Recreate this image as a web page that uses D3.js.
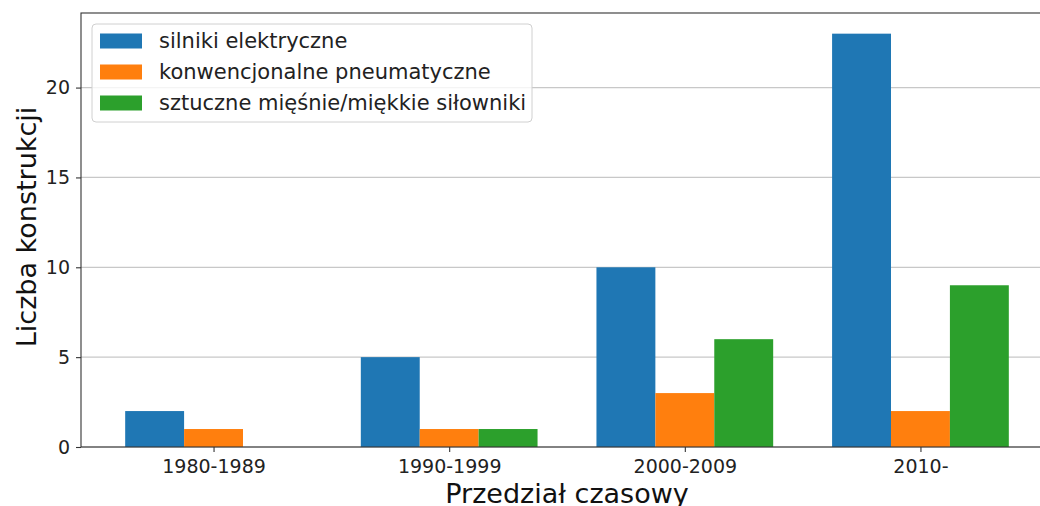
<!DOCTYPE html>
<html>
<head>
<meta charset="utf-8">
<script src="https://cdn.jsdelivr.net/npm/d3@7"></script>
<style>
  body { margin: 0; background: #fff; }
  svg { font-family: "DejaVu Sans", sans-serif; display: block; }
</style>
</head>
<body>
<svg id="chart" width="1040" height="506"></svg>
<script>
// data
var periods = ["1980-1989", "1990-1999", "2000-2009", "2010-"];
var seriesNames = ["silniki elektryczne", "konwencjonalne pneumatyczne", "sztuczne mięśnie/miękkie siłowniki"];
var electric = [2, 5, 10, 23];
var pneumatic = [1, 1, 3, 2];
var artificial = [0, 1, 6, 9];
var yTicks = [0, 5, 10, 15, 20];
var colors = ["#1f77b4", "#ff7f0e", "#2ca02c"];

var series = [electric, pneumatic, artificial];

var svg = d3.select("#chart");
var mLeft = 81, mRight = 1053, mTop = 13, mBottom = 447;
var barW = 0.25;

// numeric x like matplotlib, bars at i + (k-1)*barW
var x = d3.scaleLinear().domain([-0.5625, 3.5625]).range([mLeft, mRight]);
var y = d3.scaleLinear().domain([0, 24.15]).range([mBottom, mTop]);

// grid
svg.append("g").selectAll("line")
    .data(yTicks)
  .enter().append("line")
    .attr("x1", mLeft).attr("x2", mRight)
    .attr("y1", function(d) { return y(d); })
    .attr("y2", function(d) { return y(d); })
    .attr("stroke", "#b0b0b0")
    .attr("stroke-opacity", 0.7)
    .attr("stroke-width", 1.2);

// bars
series.forEach(function(vals, k) {
  svg.append("g").selectAll("rect")
      .data(vals)
    .enter().append("rect")
      .attr("x", function(d, i) { return x(i + (k - 1) * barW - barW / 2); })
      .attr("width", x(barW) - x(0))
      .attr("y", function(d) { return y(d); })
      .attr("height", function(d) { return y(0) - y(d); })
      .attr("fill", colors[k]);
});

// axes
var yAxis = d3.axisLeft(y).tickValues(yTicks).tickSize(5).tickPadding(6);
var gy = svg.append("g").attr("transform", "translate(" + mLeft + ",0)").call(yAxis);

var xAxis = d3.axisBottom(x).tickValues(d3.range(periods.length))
    .tickFormat(function(d) { return periods[d]; }).tickSize(5).tickPadding(5);
var gx = svg.append("g").attr("transform", "translate(0," + mBottom + ")").call(xAxis);

[gx, gy].forEach(function(g) {
  g.select(".domain").remove();
  g.selectAll(".tick line").attr("stroke", "#333").attr("stroke-width", 1.1);
  g.selectAll(".tick text").attr("fill", "#222").style("font-size", "19px")
    .style("font-family", "DejaVu Sans, sans-serif");
});
gx.selectAll(".tick text").attr("dy", "0.85em");

// frame
svg.append("rect")
    .attr("x", mLeft).attr("y", mTop)
    .attr("width", mRight - mLeft).attr("height", mBottom - mTop)
    .attr("fill", "none").attr("stroke", "#333").attr("stroke-width", 1.1);

// axis labels
svg.append("text")
    .attr("x", (mLeft + mRight) / 2).attr("y", 503)
    .attr("text-anchor", "middle")
    .style("font-size", "27px").attr("fill", "#111")
    .text("Przedział czasowy");

svg.append("text")
    .attr("transform", "translate(36," + 227 + ") rotate(-90)")
    .attr("text-anchor", "middle")
    .style("font-size", "27px").attr("fill", "#111")
    .text("Liczba konstrukcji");

// legend
var legend = svg.append("g");
legend.append("rect")
    .attr("x", 92).attr("y", 24).attr("width", 440).attr("height", 98)
    .attr("rx", 4).attr("fill", "#fff").attr("fill-opacity", 0.8)
    .attr("stroke", "#d0d0d0").attr("stroke-width", 1);

var item = legend.selectAll("g.item")
    .data(seriesNames)
  .enter().append("g")
    .attr("transform", function(d, i) { return "translate(100," + (41 + i * 31) + ")"; });

item.append("rect")
    .attr("x", 0).attr("y", -7.5).attr("width", 42).attr("height", 15)
    .attr("fill", function(d, i) { return colors[i]; });

item.append("text")
    .attr("x", 59).attr("dy", "0.35em")
    .style("font-size", "21px").attr("fill", "#222")
    .text(function(d) { return d; });
</script>
</body>
</html>
